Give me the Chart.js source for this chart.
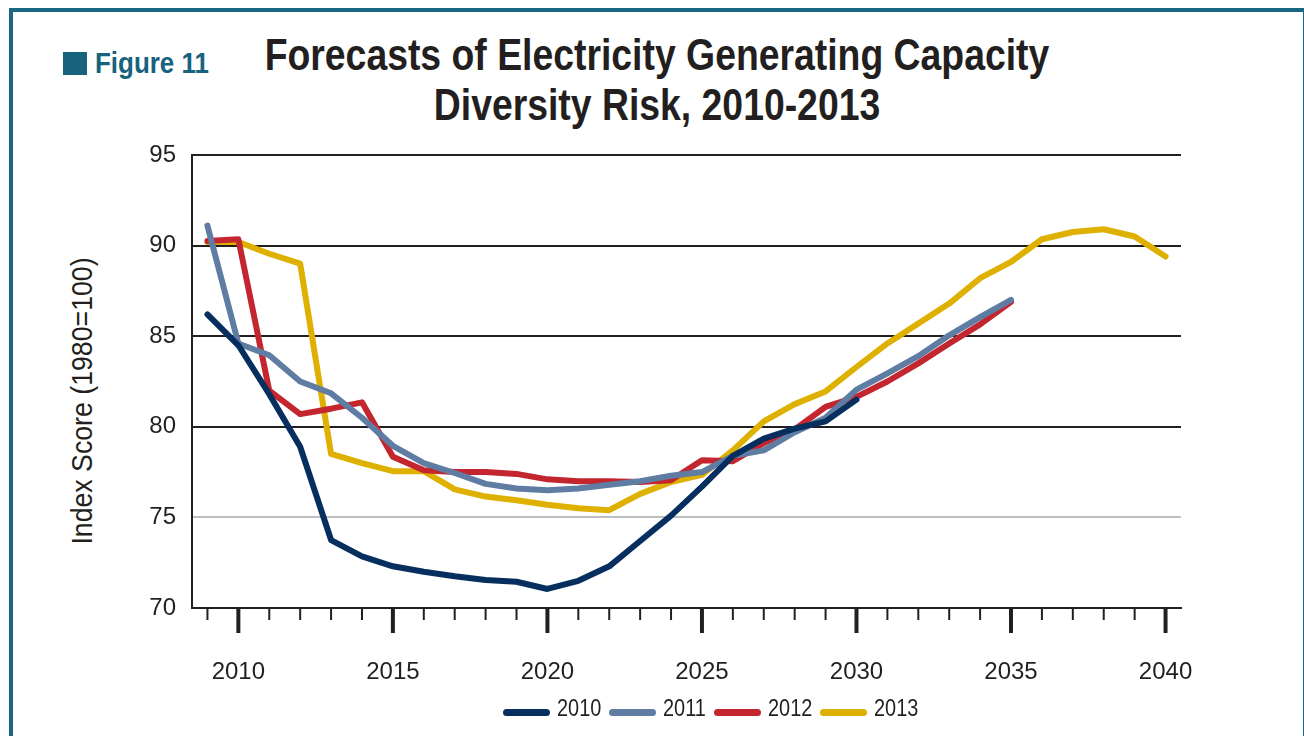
<!DOCTYPE html>
<html>
<head>
<meta charset="utf-8">
<script src="https://cdn.jsdelivr.net/npm/chart.js@4.4.1/dist/chart.umd.min.js"></script>
<style>
  html, body { margin: 0; padding: 0; background: #fff; }
  body { width: 1304px; height: 736px; position: relative; overflow: hidden;
         font-family: 'Liberation Sans', Arial, sans-serif; color: #231f20; }
  #frame { position: absolute; left: 9px; top: 8px; width: 1290px; height: 800px;
           border-top: 4px solid #1b6683; border-left: 4px solid #1b6683; border-right: 2px solid #1b6683; }
  #figSquare { position: absolute; left: 63px; top: 52px; width: 24px; height: 23px; background: #17637e; }
  #figLabel { position: absolute; left: 95px; top: 48px; font-size: 30px; line-height: 30px; font-weight: bold;
              color: #17637e; white-space: nowrap; transform: scaleX(0.865); transform-origin: 0 50%; }
  #title { position: absolute; left: 0; top: 30px; width: 1314px; text-align: center;
           font-size: 45px; line-height: 50px; font-weight: bold; color: #231f20;
           transform: scaleX(0.83); transform-origin: 50% 50%; }
  #yTitle { position: absolute; left: -118px; top: 383px; width: 400px; height: 36px; line-height: 36px;
            text-align: center; font-size: 30px; white-space: nowrap;
            transform: rotate(-90deg) scaleX(0.89); transform-origin: 50% 50%; }
  #chartWrap { position: absolute; left: 0; top: 0; width: 1304px; height: 736px; }
  .swatch { position: absolute; top: 708.5px; width: 47px; height: 7px; border-radius: 3.5px; }
  .ltext { position: absolute; top: 695.5px; font-size: 24px; line-height: 24px; white-space: nowrap;
           transform: scaleX(0.83); transform-origin: 0 50%; }
</style>
</head>
<body>
<div id="frame"></div>
<div id="figSquare"></div>
<div id="figLabel">Figure 11</div>
<div id="title">Forecasts of Electricity Generating Capacity<br>Diversity Risk, 2010-2013</div>
<div id="yTitle">Index Score (1980=100)</div>
<div id="chartWrap"><canvas id="chart" width="1304" height="736"></canvas></div>
<div id="legend"></div>
<script>
// Forecast years on the horizontal axis
const years = [2009, 2010, 2011, 2012, 2013, 2014, 2015, 2016, 2017, 2018, 2019,
               2020, 2021, 2022, 2023, 2024, 2025, 2026, 2027, 2028, 2029, 2030,
               2031, 2032, 2033, 2034, 2035, 2036, 2037, 2038, 2039, 2040];
// Years that carry a label and a long tick mark
const labelledYears = [2010, 2015, 2020, 2025, 2030, 2035, 2040];
// Index score range and step
const yMin = 70, yMax = 95, yStep = 5;

// Index scores of each forecast edition (null where the forecast stops)
const forecast2010 = [86.2, 84.5, 81.8, 78.9, 73.75, 72.85, 72.3, 72.0, 71.75, 71.55, 71.45,
                      71.05, 71.5, 72.3, 73.7, 75.1, 76.7, 78.4, 79.35, 79.9, 80.3, 81.5,
                      null, null, null, null, null, null, null, null, null, null];
const forecast2011 = [91.1, 84.6, 83.95, 82.5, 81.85, 80.5, 78.95, 78.0, 77.45, 76.85, 76.6,
                      76.5, 76.6, 76.8, 77.0, 77.3, 77.5, 78.4, 78.7, 79.7, 80.5, 82.05,
                      82.95, 83.9, 85.05, 86.05, 87.0, null, null, null, null, null];
const forecast2012 = [90.25, 90.35, 82.0, 80.7, 81.0, 81.35, 78.35, 77.6, 77.5, 77.5, 77.4,
                      77.1, 77.0, 77.0, 76.95, 77.05, 78.15, 78.1, 79.1, 79.85, 81.1, 81.65,
                      82.5, 83.5, 84.6, 85.65, 86.9, null, null, null, null, null];
const forecast2013 = [90.2, 90.2, 89.55, 89.0, 78.5, 78.0, 77.55, 77.55, 76.55, 76.15, 75.95,
                      75.7, 75.5, 75.4, 76.3, 76.95, 77.35, 78.7, 80.3, 81.25, 81.95, 83.3,
                      84.6, 85.7, 86.8, 88.2, 89.1, 90.35, 90.75, 90.9, 90.5, 89.4];

const seriesNames = ['2010', '2011', '2012', '2013'];
const seriesValues = [forecast2010, forecast2011, forecast2012, forecast2013];
const seriesColors = ['#062f5f', '#5f7ca3', '#c3262f', '#deb000'];

const FONT = "'Liberation Sans', Arial, sans-serif";
const INK = '#231f20';

// Short ticks for every year, long ones for labelled years
const yearTicks = {
  id: 'yearTicks',
  afterDraw(chart) {
    const sx = chart.scales.x;
    const ctx = chart.ctx;
    const y0 = chart.chartArea.bottom;
    ctx.save();
    ctx.strokeStyle = INK;
    years.forEach((yr, i) => {
      const major = labelledYears.includes(yr);
      const x = sx.getPixelForValue(i);
      ctx.lineWidth = major ? 4 : 2;
      ctx.beginPath();
      ctx.moveTo(x, y0);
      ctx.lineTo(x, y0 + (major ? 25 : 12));
      ctx.stroke();
    });
    ctx.restore();
  }
};

new Chart(document.getElementById('chart'), {
  type: 'line',
  data: {
    labels: years.map(String),
    datasets: seriesNames.map((name, k) => ({
      label: name,
      data: seriesValues[k],
      borderColor: seriesColors[k],
      backgroundColor: seriesColors[k],
      borderWidth: 6,
      borderCapStyle: 'round',
      borderJoinStyle: 'round',
      pointRadius: 0,
      pointHoverRadius: 0,
      tension: 0,
      fill: false
    }))
  },
  options: {
    responsive: false,
    devicePixelRatio: 1,
    animation: false,
    events: [],
    layout: { padding: { left: 132, right: 123, top: 155, bottom: 48 } },
    plugins: {
      legend: { display: false },
      title: { display: false },
      tooltip: { enabled: false }
    },
    scales: {
      x: {
        offset: true,
        grid: { display: false },
        border: { display: true, color: INK, width: 2 },
        ticks: {
          autoSkip: false,
          maxRotation: 0,
          padding: 42,
          color: INK,
          font: { family: FONT, size: 24 },
          callback: (v, i) => labelledYears.includes(years[i]) ? String(years[i]) : ''
        },
        afterFit: s => { s.height = 80; }
      },
      y: {
        min: yMin,
        max: yMax,
        ticks: { stepSize: yStep, padding: 16, color: INK, font: { family: FONT, size: 24 } },
        grid: {
          drawTicks: false,
          lineWidth: 2,
          color: c => (c.tick && c.tick.value === 75) ? '#bcbec0' : INK
        },
        border: { display: true, color: INK, width: 2 },
        afterFit: s => { s.width = 60; }
      }
    }
  },
  plugins: [yearTicks]
});

// Legend built from the series definitions
const legend = document.getElementById('legend');
const legendLeft = 503, legendPitch = 105.5;
seriesNames.forEach((name, k) => {
  const x = legendLeft + k * legendPitch;
  const sw = document.createElement('div');
  sw.className = 'swatch';
  sw.style.left = x + 'px';
  sw.style.background = seriesColors[k];
  const tx = document.createElement('div');
  tx.className = 'ltext';
  tx.style.left = (x + 54) + 'px';
  tx.textContent = name;
  legend.appendChild(sw);
  legend.appendChild(tx);
});
</script>
</body>
</html>
